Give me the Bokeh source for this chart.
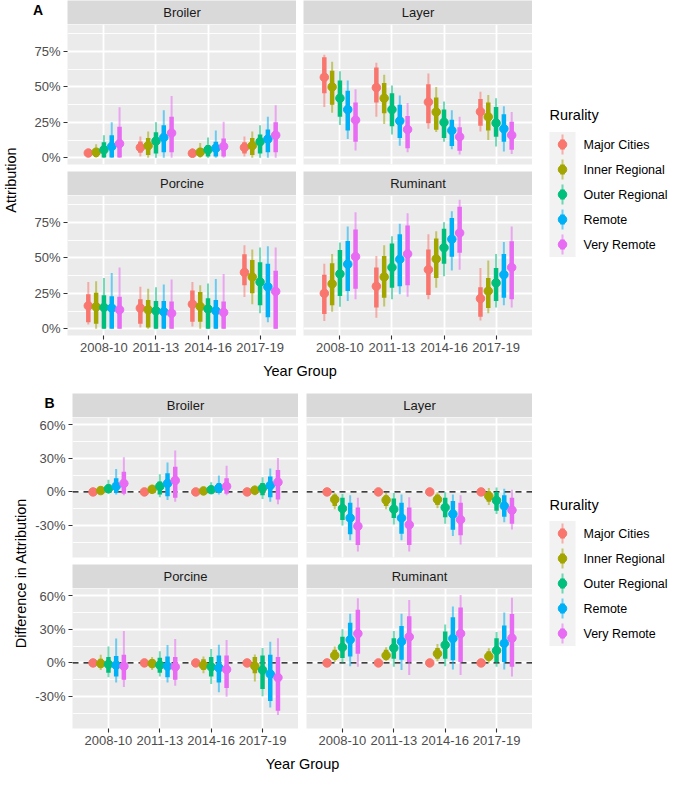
import math
from bokeh.plotting import figure
from bokeh.models import (ColumnDataSource, FactorRange, Range1d, Label, Span,
                          SingleIntervalTicker, NumeralTickFormatter, Spacer)
from bokeh.layouts import row, column
from bokeh.transform import dodge
from bokeh.core.properties import value
from bokeh.embed import file_html
from bokeh.resources import INLINE

# ---------------- data (percent) ----------------
YEARS = ["2008-10", "2011-13", "2014-16", "2017-19"]
RURALITY = ["Major Cities", "Inner Regional", "Outer Regional", "Remote", "Very Remote"]
COLORS = ["#F8766D", "#A3A500", "#00BF7D", "#00B0F6", "#E76BF3"]
FACETS = ["Broiler", "Layer", "Porcine", "Ruminant"]

# Panel A: attribution (rows = year groups, columns = rurality)
A_BROILER_MED = [[3.4, 4.0, 5.7, 8.0, 10.0], [7.3, 8.6, 11.8, 14.3, 17.5], [3.2, 4.0, 5.7, 6.8, 8.0], [7.3, 8.6, 11.4, 13.2, 16.0]]
A_BROILER_LO66 = [[2.0, 0.5, 0.3, 0.3, 0.3], [3.5, 2.0, 3.0, 4.0, 4.0], [1.5, 1.0, 1.0, 1.0, 1.0], [3.0, 2.0, 3.0, 4.0, 4.0]]
A_BROILER_HI66 = [[4.5, 6.5, 11.0, 16.0, 22.0], [11.5, 14.0, 18.0, 23.0, 29.0], [5.0, 7.0, 9.0, 11.4, 13.6], [11.0, 14.0, 16.4, 20.0, 25.0]]
A_BROILER_LO95 = [[1.5, 0.0, 0.0, 0.0, 0.0], [1.0, 0.0, 0.0, 0.0, 0.0], [0.5, 0.0, 0.0, 0.0, 0.0], [1.0, 0.0, 0.0, 0.0, 0.0]]
A_BROILER_HI95 = [[5.0, 9.5, 16.0, 25.0, 35.7], [15.0, 18.6, 25.0, 33.6, 43.6], [7.0, 10.5, 14.3, 19.3, 25.5], [15.0, 18.6, 23.0, 29.0, 37.0]]

A_LAYER_MED = [[56.8, 50.0, 42.0, 34.0, 26.6], [49.5, 42.0, 34.0, 26.0, 20.0], [39.3, 32.3, 25.0, 19.3, 14.8], [32.5, 28.9, 24.5, 20.5, 16.0]]
A_LAYER_LO66 = [[45.5, 37.5, 29.0, 19.3, 11.4], [39.0, 31.4, 22.3, 14.0, 6.8], [24.3, 19.8, 14.0, 8.4, 5.0], [22.7, 19.3, 14.8, 11.4, 5.7]]
A_LAYER_HI66 = [[70.9, 61.4, 54.5, 47.3, 39.0], [63.6, 52.7, 45.5, 37.5, 29.5], [51.8, 42.5, 34.0, 26.8, 21.6], [41.4, 39.0, 35.9, 30.7, 25.5]]
A_LAYER_LO95 = [[35.9, 31.8, 23.2, 13.2, 5.2], [29.0, 23.9, 16.4, 8.6, 3.9], [20.5, 18.2, 11.4, 6.0, 2.3], [18.6, 12.5, 8.0, 4.5, 2.7]]
A_LAYER_HI95 = [[72.7, 67.7, 61.0, 54.5, 48.4], [67.0, 58.6, 51.0, 43.9, 38.6], [59.5, 50.0, 39.8, 33.6, 28.9], [46.6, 44.3, 42.0, 36.4, 32.3]]

A_PORCINE_MED = [[16.2, 15.5, 15.0, 14.6, 13.4], [14.6, 13.4, 12.7, 12.0, 11.0], [17.4, 15.7, 14.0, 12.7, 11.6], [39.8, 36.6, 33.0, 29.6, 26.4]]
A_PORCINE_LO66 = [[4.6, 3.5, 0.0, 0.0, 0.0], [3.5, 1.0, 0.0, 0.0, 0.0], [5.0, 5.0, 0.0, 0.0, 0.0], [30.8, 25.0, 16.7, 8.1, 0.0]]
A_PORCINE_HI66 = [[24.3, 25.5, 23.6, 23.0, 22.7], [20.8, 20.4, 19.7, 19.7, 19.2], [27.0, 26.0, 21.5, 20.4, 19.2], [52.5, 48.6, 47.0, 45.8, 41.0]]
A_PORCINE_LO95 = [[3.0, 0.0, 0.0, 0.0, 0.0], [1.0, 0.0, 0.0, 0.0, 0.0], [1.6, 0.0, 0.0, 0.0, 0.0], [22.5, 17.4, 11.0, 4.6, 0.0]]
A_PORCINE_HI95 = [[33.1, 33.6, 35.9, 39.4, 43.3], [29.6, 28.2, 29.4, 31.2, 34.7], [33.1, 30.8, 32.0, 35.2, 38.7], [59.0, 56.0, 57.4, 58.3, 57.4]]

A_RUMINANT_MED = [[25.0, 31.7, 38.7, 45.6, 50.9], [30.0, 36.6, 43.3, 49.0, 52.8], [41.7, 49.3, 57.2, 63.2, 67.6], [21.3, 26.6, 32.4, 38.2, 43.3]]
A_RUMINANT_LO66 = [[10.4, 16.7, 23.1, 26.6, 28.2], [15.0, 22.0, 29.0, 30.0, 30.8], [23.8, 35.9, 45.8, 50.9, 53.7], [8.6, 14.6, 19.7, 22.0, 20.8]]
A_RUMINANT_HI66 = [[38.2, 46.3, 55.6, 62.0, 70.0], [43.3, 51.4, 60.2, 66.7, 72.9], [56.0, 63.7, 70.6, 78.2, 86.1], [29.4, 35.9, 42.8, 52.8, 61.8]]
A_RUMINANT_LO95 = [[5.6, 12.0, 15.5, 19.7, 20.8], [7.9, 15.7, 20.8, 24.3, 22.7], [20.8, 28.9, 37.0, 41.2, 41.7], [5.8, 11.0, 15.0, 16.7, 15.0]]
A_RUMINANT_HI95 = [[45.8, 52.8, 60.9, 72.2, 82.2], [51.4, 59.0, 65.3, 74.0, 81.5], [66.7, 68.8, 75.2, 82.9, 91.0], [42.8, 48.1, 52.8, 61.3, 72.2]]

# Panel B: difference in attribution vs Major Cities
B_BROILER_MED = [[0, 1.2, 2.9, 5.0, 7.6], [0, 2.3, 5.0, 7.6, 10.2], [0, 0.9, 2.0, 3.5, 5.0], [0, 1.5, 3.5, 5.8, 8.7]]
B_BROILER_LO66 = [[0, -0.9, -0.9, -0.9, -1.7], [0, -0.9, -2.3, -3.8, -5.2], [0, -0.9, -0.9, -0.9, -1.7], [0, -1.7, -2.9, -4.7, -6.7]]
B_BROILER_HI66 = [[0, 3.0, 6.4, 12.2, 18.0], [0, 4.7, 9.3, 16.6, 22.4], [0, 2.5, 5.0, 7.9, 12.2], [0, 3.5, 7.9, 13.7, 19.5]]
B_BROILER_LO95 = [[0, -1.7, -1.7, -2.3, -2.9], [0, -1.7, -4.7, -7.3, -8.7], [0, -1.7, -1.7, -2.3, -2.9], [0, -2.9, -6.4, -8.7, -11.0]]
B_BROILER_HI95 = [[0, 4.0, 10.8, 20.4, 30.9], [0, 6.4, 15.7, 26.2, 37.0], [0, 3.5, 8.7, 14.6, 23.3], [0, 5.8, 13.1, 21.0, 30.3]]

B_LAYER_MED = [[0, -6.7, -14.9, -23.3, -30.6], [0, -7.3, -15.4, -23.3, -29.4], [0, -6.7, -14.0, -19.8, -24.8], [0, -3.8, -7.6, -12.5, -16.3]]
B_LAYER_LO66 = [[0, -12.5, -25.0, -37.9, -47.5], [0, -12.5, -23.3, -37.3, -47.5], [0, -11.7, -22.7, -33.8, -38.7], [0, -8.7, -16.9, -22.1, -28.5]]
B_LAYER_HI66 = [[0, -2.3, -5.2, -9.6, -14.0], [0, -2.9, -5.8, -9.6, -14.0], [0, -2.3, -5.2, -8.2, -9.6], [0, 0.6, 0.0, -2.9, -5.2]]
B_LAYER_LO95 = [[0, -15.4, -30.0, -43.1, -53.3], [0, -15.4, -29.1, -43.1, -53.3], [0, -14.6, -28.5, -39.3, -46.9], [0, -11.7, -19.8, -27.1, -33.5]]
B_LAYER_HI95 = [[0, -0.9, -1.7, -2.9, -5.2], [0, -0.9, -0.9, -2.3, -4.7], [0, -0.3, -0.3, -2.3, -2.9], [0, 3.5, 4.0, 2.9, 2.0]]

B_PORCINE_MED = [[0, -0.6, -1.2, -2.0, -2.9], [0, -0.6, -2.0, -2.9, -3.5], [0, -2.0, -3.5, -4.4, -5.8], [0, -2.9, -6.4, -9.9, -13.1]]
B_PORCINE_LO66 = [[0, -4.1, -8.7, -12.2, -15.1], [0, -4.1, -8.7, -12.8, -15.1], [0, -6.4, -12.2, -17.5, -22.4], [0, -9.3, -23.3, -34.1, -42.8]]
B_PORCINE_HI66 = [[0, 3.8, 5.2, 6.1, 7.3], [0, 3.2, 4.7, 5.8, 5.2], [0, 3.2, 5.2, 6.7, 6.7], [0, 5.2, 6.7, 7.3, 5.2]]
B_PORCINE_LO95 = [[0, -6.4, -12.8, -17.5, -21.6], [0, -6.4, -12.2, -17.5, -20.4], [0, -9.3, -18.9, -26.2, -30.3], [0, -16.6, -29.7, -39.9, -46.6]]
B_PORCINE_HI95 = [[0, 7.3, 14.6, 21.8, 28.5], [0, 5.2, 10.5, 16.0, 21.3], [0, 5.8, 12.5, 16.3, 20.4], [0, 7.6, 13.4, 18.9, 22.1]]

B_RUMINANT_MED = [[0, 6.7, 14.0, 20.7, 26.2], [0, 6.7, 13.4, 19.2, 23.3], [0, 8.2, 16.0, 21.8, 26.2], [0, 5.8, 11.0, 17.5, 22.1]]
B_RUMINANT_LO66 = [[0, 2.9, 4.4, 5.8, 8.2], [0, 2.9, 3.8, 2.9, 0.9], [0, 3.8, 3.8, 2.3, 0.9], [0, 2.3, 0.9, 0.9, -3.5]]
B_RUMINANT_HI66 = [[0, 11.7, 23.3, 35.8, 47.5], [0, 11.7, 22.1, 32.9, 41.7], [0, 13.4, 28.0, 40.8, 49.5], [0, 10.5, 22.1, 33.5, 43.7]]
B_RUMINANT_LO95 = [[0, 0.9, 0.0, -2.9, -3.5], [0, 1.7, -3.5, -6.4, -10.8], [0, 1.5, -2.9, -5.8, -10.8], [0, 0.0, -3.5, -5.8, -12.2]]
B_RUMINANT_HI95 = [[0, 14.6, 30.0, 44.0, 57.7], [0, 14.0, 28.5, 44.0, 56.2], [0, 16.9, 34.4, 50.4, 60.6], [0, 13.1, 27.7, 45.1, 58.3]]

A_STATS = {
    "Broiler": (A_BROILER_MED, A_BROILER_LO66, A_BROILER_HI66, A_BROILER_LO95, A_BROILER_HI95),
    "Layer": (A_LAYER_MED, A_LAYER_LO66, A_LAYER_HI66, A_LAYER_LO95, A_LAYER_HI95),
    "Porcine": (A_PORCINE_MED, A_PORCINE_LO66, A_PORCINE_HI66, A_PORCINE_LO95, A_PORCINE_HI95),
    "Ruminant": (A_RUMINANT_MED, A_RUMINANT_LO66, A_RUMINANT_HI66, A_RUMINANT_LO95, A_RUMINANT_HI95),
}
B_STATS = {
    "Broiler": (B_BROILER_MED, B_BROILER_LO66, B_BROILER_HI66, B_BROILER_LO95, B_BROILER_HI95),
    "Layer": (B_LAYER_MED, B_LAYER_LO66, B_LAYER_HI66, B_LAYER_LO95, B_LAYER_HI95),
    "Porcine": (B_PORCINE_MED, B_PORCINE_LO66, B_PORCINE_HI66, B_PORCINE_LO95, B_PORCINE_HI95),
    "Ruminant": (B_RUMINANT_MED, B_RUMINANT_LO66, B_RUMINANT_HI66, B_RUMINANT_LO95, B_RUMINANT_HI95),
}

# ---------------- styling ----------------
FONT = "Liberation Sans"
PANEL_BG = "#EBEBEB"
STRIP_BG = "#D9D9D9"
FRAME_H = 140
STRIP_H = 24
GAP = 7
XAX_H = 24


def blank(w, h, xr, yr, bg="white"):
    p = figure(width=w, height=h, x_range=xr, y_range=yr, x_axis_type=None, y_axis_type=None,
               output_backend="svg", toolbar_location=None, tools="", min_border=0)
    p.outline_line_color = None
    p.background_fill_color = bg
    p.border_fill_color = "white"
    return p


def strip(text, w, left):
    p = blank(w, STRIP_H, Range1d(0, 1), Range1d(0, 1), bg=STRIP_BG)
    p.min_border_left = left
    p.add_layout(Label(x=0.5, y=0.5, text=text, text_align="center", text_baseline="middle",
                       text_font=FONT, text_font_size="13px", text_color="#1A1A1A"))
    return p


def facet(stats, ylim, interval, w, h, left, bottom, show_x, show_y, zero_line):
    med, lo66, hi66, lo95, hi95 = stats
    xr = FactorRange(factors=YEARS, range_padding=0.2, range_padding_units="absolute")
    p = figure(width=w, height=h, x_range=xr, y_range=Range1d(*ylim), output_backend="svg",
               toolbar_location=None, tools="", min_border=0)
    p.min_border_left = left
    p.min_border_bottom = bottom
    p.background_fill_color = PANEL_BG
    p.border_fill_color = "white"
    p.outline_line_color = None
    ticker = SingleIntervalTicker(interval=interval, num_minor_ticks=2)
    p.yaxis.ticker = ticker
    p.ygrid.ticker = ticker
    p.yaxis.formatter = NumeralTickFormatter(format="0%")
    p.xgrid.grid_line_color = "white"
    p.xgrid.grid_line_width = 1.8
    p.ygrid.grid_line_color = "white"
    p.ygrid.grid_line_width = 1.8
    p.ygrid.minor_grid_line_color = "white"
    p.ygrid.minor_grid_line_width = 0.9
    for ax in p.axis:
        ax.axis_line_color = None
        ax.major_tick_line_color = "#333333"
        ax.major_tick_line_width = 1.1
        ax.major_tick_in = 0
        ax.major_tick_out = 4
        ax.minor_tick_line_color = None
        ax.major_label_text_font = FONT
        ax.major_label_text_font_size = "13px"
        ax.major_label_text_color = "#4D4D4D"
        ax.major_label_standoff = 3
    p.xaxis.visible = show_x
    p.yaxis.visible = show_y
    if zero_line:
        p.add_layout(Span(location=0, dimension="width", line_color="black",
                          line_dash="6 5", line_width=1.4, level="underlay"))
    for i, color in enumerate(COLORS):
        src = ColumnDataSource(dict(
            year=YEARS,
            med=[r[i] / 100 for r in med],
            lo66=[r[i] / 100 for r in lo66], hi66=[r[i] / 100 for r in hi66],
            lo95=[r[i] / 100 for r in lo95], hi95=[r[i] / 100 for r in hi95],
        ))
        xd = dodge("year", (i - 2) * 0.15, range=xr)
        p.segment(x0=xd, y0="lo95", x1=xd, y1="hi95", source=src,
                  line_color=color, line_alpha=0.55, line_width=2)
        p.segment(x0=xd, y0="lo66", x1=xd, y1="hi66", source=src,
                  line_color=color, line_width=4.5)
        p.scatter(x=xd, y="med", source=src, size=8.5, fill_color=color, line_color=color)
    return p


def legend_fig(w, h, title_y, key_y0, dy):
    p = blank(w, h, Range1d(0, w), Range1d(h, 0))
    kx0, kx1 = 17, 43
    kc = (kx0 + kx1) / 2
    p.add_layout(Label(x=kx0, y=title_y, text="Rurality", text_baseline="middle",
                       text_font=FONT, text_font_size="14.5px", text_color="black"))
    ys = [key_y0 + i * dy for i in range(len(RURALITY))]
    p.quad(left=[kx0], right=[kx1], top=[ys[0] - dy / 2], bottom=[ys[-1] + dy / 2],
           fill_color="#F2F2F2", line_color=None)
    src = ColumnDataSource(dict(
        x=[kc] * len(ys), y=ys,
        y0=[y - 10 for y in ys], y1=[y + 10 for y in ys],
        t0=[y - 5 for y in ys], t1=[y + 5 for y in ys],
        color=COLORS, label=RURALITY))
    p.segment(x0="x", y0="y0", x1="x", y1="y1", source=src, line_color="color",
              line_alpha=0.55, line_width=2)
    p.segment(x0="x", y0="t0", x1="x", y1="t1", source=src, line_color="color", line_width=4.5)
    p.scatter(x="x", y="y", source=src, size=8.5, fill_color="color", line_color="color")
    p.text(x=51, y="y", text="label", source=src, text_font=value(FONT),
           text_font_size="12.5px", text_baseline="middle", text_color="black")
    return p


def half(stats, ylim, interval, letter, letter_x, ytitle, ytitle_x, left_w, lb, rb, fw_l, fw_r,
         top_pad, xt_h, leg_w, leg_title_y, leg_key_y0, zero_line):
    lw = lb + fw_l
    rw = rb + fw_r
    # letter tag sits in the blank band left of the first strip
    tag = blank(lb, STRIP_H, Range1d(0, lb), Range1d(STRIP_H, 0))
    tag.add_layout(Label(x=letter_x, y=1, text=letter, text_baseline="top", text_align="center",
                         text_font=FONT, text_font_size="14px", text_font_style="bold",
                         text_color="black"))
    s_tl = row(tag, strip(FACETS[0], fw_l, 0))
    f_tl = facet(stats[FACETS[0]], ylim, interval, lw, FRAME_H + GAP, lb, GAP, False, True, zero_line)
    s_bl = strip(FACETS[2], lw, lb)
    f_bl = facet(stats[FACETS[2]], ylim, interval, lw, FRAME_H + XAX_H, lb, XAX_H, True, True, zero_line)
    s_tr = strip(FACETS[1], rw, rb)
    f_tr = facet(stats[FACETS[1]], ylim, interval, rw, FRAME_H + GAP, rb, GAP, False, False, zero_line)
    s_br = strip(FACETS[3], rw, rb)
    f_br = facet(stats[FACETS[3]], ylim, interval, rw, FRAME_H + XAX_H, rb, XAX_H, True, False, zero_line)

    mid_w = lw + rw
    xt = blank(mid_w, xt_h, Range1d(0, mid_w), Range1d(xt_h, 0))
    xt.add_layout(Label(x=(lb + mid_w) / 2, y=11, text="Year Group", text_align="center",
                        text_baseline="middle", text_font=FONT, text_font_size="14.5px",
                        text_color="black"))
    grid = row(column(s_tl, f_tl, s_bl, f_bl), column(s_tr, f_tr, s_br, f_br))
    kids = []
    if top_pad:
        kids.append(Spacer(width=mid_w, height=top_pad))
    kids += [grid, xt]
    mid = column(*kids)

    total_h = top_pad + 2 * STRIP_H + 2 * FRAME_H + GAP + XAX_H + xt_h
    left = blank(left_w, total_h, Range1d(0, left_w), Range1d(total_h, 0))
    frames_top = top_pad + STRIP_H
    frames_bot = top_pad + 2 * STRIP_H + 2 * FRAME_H + GAP
    left.add_layout(Label(x=ytitle_x, y=(frames_top + frames_bot) / 2,
                          text=ytitle, angle=math.pi / 2, text_align="center",
                          text_baseline="middle", text_font=FONT, text_font_size="14.5px",
                          text_color="black"))
    leg = legend_fig(leg_w, total_h, leg_title_y, leg_key_y0, 25)
    return row(left, mid, leg)


rowA = half(A_STATS, (-0.047, 0.94), 0.25, "A", 13.5, "Attribution", 10,
            left_w=24, lb=43, rb=7, fw_l=229, fw_r=229, top_pad=0, xt_h=22, leg_w=137,
            leg_title_y=114, leg_key_y0=144, zero_line=False)
rowB = half(B_STATS, (-0.586, 0.665), 0.30, "B", 21, "Difference in Attribution", 20,
            left_w=28, lb=44, rb=8, fw_l=226, fw_r=226, top_pad=12, xt_h=24, leg_w=137,
            leg_title_y=123, leg_key_y0=152, zero_line=True)

page = column(rowA, rowB)
open("out.html", "w").write(file_html(page, INLINE, title="Attribution by rurality"))
